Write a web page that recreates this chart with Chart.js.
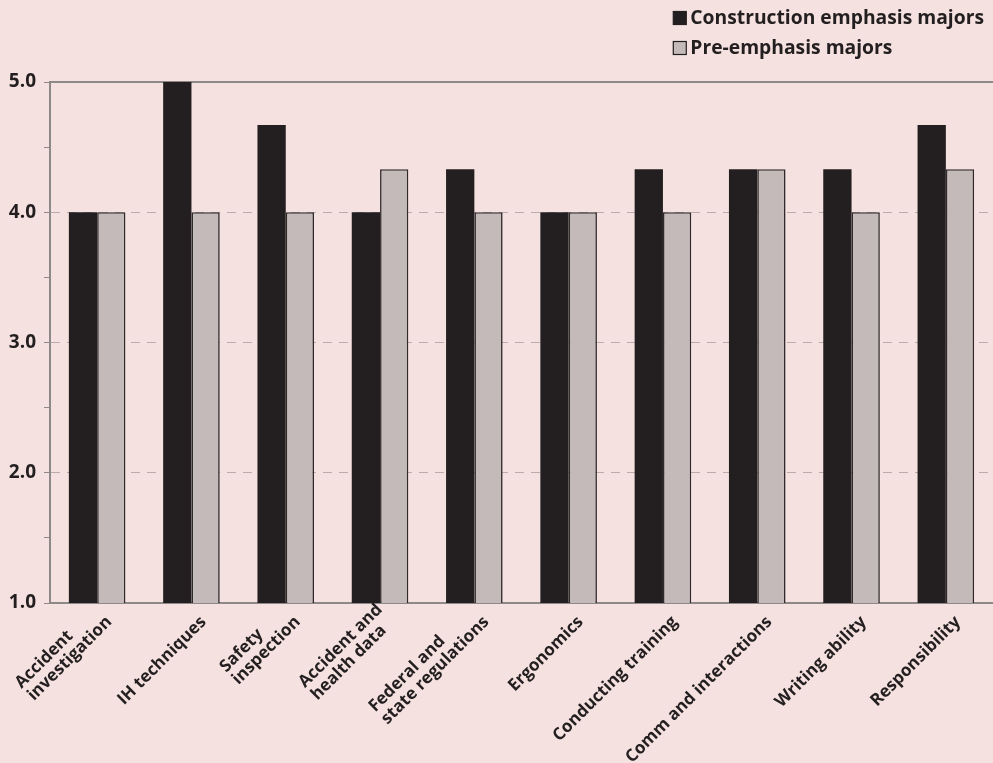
<!DOCTYPE html>
<html>
<head>
<meta charset="utf-8">
<script src="https://cdn.jsdelivr.net/npm/chart.js@4.4.1/dist/chart.umd.min.js"></script>
<style>
  html, body { margin: 0; padding: 0; background: #f5e1df; }
  #wrap { width: 993px; height: 763px; position: relative; }
</style>
</head>
<body>
<div id="wrap"><canvas id="skillsChart" width="993" height="763"></canvas></div>
<script>
// categories (multi-line labels as drawn on the x axis)
const skillLabels = [
    ["Accident", "investigation"],
    ["IH techniques"],
    ["Safety", "inspection"],
    ["Accident and", "health data"],
    ["Federal and", "state regulations"],
    ["Ergonomics"],
    ["Conducting training"],
    ["Comm and interactions"],
    ["Writing ability"],
    ["Responsibility"]
];

const constructionValues = [4.0, 5.0, 4.67, 4.0, 4.33, 4.0, 4.33, 4.33, 4.33, 4.67];
const preEmphasisValues = [4.0, 4.0, 4.0, 4.33, 4.0, 4.0, 4.0, 4.33, 4.0, 4.33];

const seriesNames = ["Construction emphasis majors", "Pre-emphasis majors"];

const FONT = "'Open Sans', 'DejaVu Sans', sans-serif";
const INK = "#231f20";
const AXIS_GREY = "#8e8888";

// legend drawn as two stacked rows in the top right corner
const stackedLegend = {
    id: "stackedLegend",
    afterDraw(chart) {
        const ctx = chart.ctx;
        const datasets = chart.data.datasets;
        ctx.save();
        ctx.font = "bold 19.3px " + FONT;
        ctx.textBaseline = "middle";
        ctx.textAlign = "left";
        let maxW = 0;
        datasets.forEach(ds => { maxW = Math.max(maxW, ctx.measureText(ds.label).width); });
        const textX = 984 - maxW;
        const rows = [18, 48];
        datasets.forEach((ds, i) => {
            const y = rows[i];
            ctx.fillStyle = ds.backgroundColor;
            ctx.fillRect(textX - 17, y - 6.5, 13, 13);
            ctx.lineWidth = 1.2;
            ctx.strokeStyle = INK;
            ctx.strokeRect(textX - 17, y - 6.5, 13, 13);
            ctx.fillStyle = INK;
            ctx.fillText(ds.label, textX, y + 1);
        });
        ctx.restore();
    }
};

// rotated category labels, lines left aligned, block ending at the tick
const slantedLabels = {
    id: "slantedLabels",
    afterDraw(chart) {
        const ctx = chart.ctx;
        const xScale = chart.scales.x;
        const top = chart.chartArea.bottom;
        const lineH = 17.5;
        ctx.save();
        ctx.font = "bold 17px " + FONT;
        ctx.fillStyle = INK;
        ctx.textAlign = "left";
        ctx.textBaseline = "middle";
        chart.data.labels.forEach((lines, i) => {
            const cx = xScale.getPixelForTick(i);
            let w = 0;
            lines.forEach(l => { w = Math.max(w, ctx.measureText(l).width); });
            ctx.save();
            ctx.translate(cx, top);
            ctx.rotate(-Math.PI / 4);
            lines.forEach((l, k) => {
                const v = 20 - (lines.length - 1 - k) * lineH;
                ctx.fillText(l, -w - 3, v);
            });
            ctx.restore();
        });
        ctx.restore();
    }
};

function gridColour(ctx) {
    if (!ctx.tick) return "transparent";
    const v = ctx.tick.value;
    if (Number.isInteger(v) && v > 1 && v < 5) return "#b8adac";
    return "transparent";
}

new Chart("skillsChart", {
    type: "bar",
    data: {
        labels: skillLabels,
        datasets: [
            {
                label: seriesNames[0],
                data: constructionValues,
                backgroundColor: INK,
                borderColor: INK,
                borderWidth: 0,
                barPercentage: 1.0,
                categoryPercentage: 0.6
            },
            {
                label: seriesNames[1],
                data: preEmphasisValues,
                backgroundColor: "#c4bab9",
                borderColor: "#2e2a2b",
                borderWidth: 1.6,
                borderSkipped: "bottom",
                barPercentage: 1.0,
                categoryPercentage: 0.6
            }
        ]
    },
    options: {
        responsive: false,
        animation: false,
        layout: { padding: { top: 82, right: 0, left: 0, bottom: 0 } },
        plugins: {
            legend: { display: false },
            title: { display: false },
            tooltip: { enabled: false }
        },
        scales: {
            x: {
                type: "category",
                position: "bottom",
                grid: { display: false },
                border: { display: true, color: AXIS_GREY, width: 2 },
                ticks: { display: false },
                afterFit(scale) { scale.height = 160; }
            },
            xTop: {
                type: "category",
                position: "top",
                grid: { display: false, drawTicks: false },
                border: { display: true, color: AXIS_GREY, width: 2 },
                ticks: { display: false },
                afterFit(scale) { scale.height = 0; }
            },
            y: {
                min: 1,
                max: 5,
                grid: {
                    color: gridColour,
                    lineWidth: 1,
                    tickColor: AXIS_GREY,
                    tickLength: 6,
                    drawTicks: true
                },
                border: { display: true, color: AXIS_GREY, width: 2, dash: [9, 7] },
                ticks: {
                    stepSize: 0.5,
                    color: INK,
                    padding: 8,
                    font: { family: FONT, size: 19, weight: "bold" },
                    callback: v => (Number.isInteger(v) ? v.toFixed(1) : "")
                },
                afterFit(scale) { scale.width = 50; }
            }
        }
    },
    plugins: [stackedLegend, slantedLabels]
});
</script>
</body>
</html>
